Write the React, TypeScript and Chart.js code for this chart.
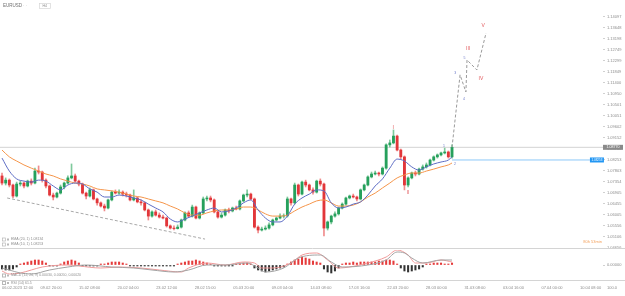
import React, { useEffect, useRef } from 'react';
import { Chart, registerables } from 'chart.js';

Chart.register(...registerables);

const FONT = '"Liberation Sans", "DejaVu Sans", sans-serif';
const AXIS_TEXT = '#8c8c8c';

// ---- price data (4h candles, EURUSD) ----
const OPEN_FIRST = 1.076;
const CLOSES = [
  1.0731, 1.0743, 1.0723, 1.0678, 1.0727, 1.0731, 1.0719, 1.0739, 1.0731, 1.078,
  1.0776, 1.0743, 1.0719, 1.0682, 1.0674, 1.069, 1.0715, 1.0731, 1.0752, 1.076,
  1.0739, 1.0727, 1.069, 1.0678, 1.0703, 1.0666, 1.065, 1.0637, 1.0629, 1.0662,
  1.0694, 1.069, 1.0694, 1.0686, 1.0682, 1.0662, 1.067, 1.0654, 1.065, 1.0621,
  1.0596, 1.0613, 1.06, 1.0592, 1.0588, 1.0556, 1.0547, 1.0545, 1.0551, 1.058,
  1.0609, 1.0596, 1.0633, 1.0588, 1.0609, 1.0666, 1.067, 1.0662, 1.0613, 1.0592,
  1.06, 1.0621, 1.0617, 1.0629, 1.0625, 1.0658, 1.0682, 1.0686, 1.0666, 1.0551,
  1.0539, 1.0543, 1.0547, 1.056, 1.058, 1.0588, 1.0596, 1.0597, 1.0666, 1.065,
  1.0723, 1.0686, 1.0735, 1.0723, 1.0703, 1.0694, 1.0739, 1.0727, 1.0547, 1.0572,
  1.0596, 1.0605, 1.0629, 1.0645, 1.067, 1.0678, 1.0674, 1.0666, 1.0703, 1.0723,
  1.0756, 1.0768, 1.0772, 1.0768, 1.0792, 1.0887, 1.0895, 1.0923, 1.0866, 1.0838,
  1.0723, 1.0752, 1.0772, 1.0768, 1.0788, 1.0797, 1.0805, 1.0825, 1.0838, 1.0846,
  1.0854, 1.0858, 1.0838, 1.0877,
];
const HIGHS = [
  1.0772, 1.0752, 1.0748, 1.0727, 1.0735, 1.0739, 1.0735, 1.0743, 1.0748, 1.0792,
  1.0801, 1.078, 1.0748, 1.0723, 1.069, 1.0694, 1.0723, 1.0735, 1.076, 1.0809,
  1.0768, 1.0743, 1.0731, 1.0694, 1.0711, 1.0707, 1.067, 1.0654, 1.0645, 1.0666,
  1.0699, 1.0703, 1.0703, 1.0699, 1.0694, 1.0686, 1.0703, 1.0674, 1.0662, 1.0654,
  1.0625, 1.0617, 1.0621, 1.0609, 1.06, 1.0592, 1.056, 1.0556, 1.056, 1.0584,
  1.0613, 1.0617, 1.0641, 1.0637, 1.0613, 1.0674, 1.0678, 1.0678, 1.0666, 1.0617,
  1.0609, 1.0625, 1.0629, 1.0633, 1.0637, 1.0662, 1.0686, 1.0703, 1.069, 1.067,
  1.0556, 1.0551, 1.0556, 1.0568, 1.0584, 1.0592, 1.0605, 1.0605, 1.0674, 1.067,
  1.0731, 1.0727, 1.0739, 1.0743, 1.0727, 1.0711, 1.0743, 1.0748, 1.0731, 1.0576,
  1.06, 1.0613, 1.0633, 1.065, 1.0674, 1.0682, 1.0686, 1.0678, 1.0707, 1.0727,
  1.076, 1.0776, 1.078, 1.0776, 1.0797, 1.0891, 1.0907, 1.0948, 1.0927, 1.087,
  1.0842, 1.0756, 1.0776, 1.078, 1.0792, 1.0805, 1.0813, 1.0829, 1.0842, 1.085,
  1.0858, 1.0874, 1.0862, 1.0887,
];
const LOWS = [
  1.0723, 1.0723, 1.0715, 1.067, 1.0674, 1.0719, 1.0711, 1.0715, 1.0723, 1.0727,
  1.0768, 1.0735, 1.0711, 1.0678, 1.0662, 1.067, 1.0686, 1.0707, 1.0727, 1.0748,
  1.0735, 1.0719, 1.0686, 1.0666, 1.0674, 1.0662, 1.0641, 1.0633, 1.0617, 1.0625,
  1.0658, 1.0686, 1.0686, 1.0678, 1.0674, 1.0658, 1.0658, 1.065, 1.0641, 1.0617,
  1.058, 1.0592, 1.0596, 1.0588, 1.0584, 1.0551, 1.0543, 1.0539, 1.0543, 1.0547,
  1.0576, 1.0592, 1.0592, 1.0584, 1.0584, 1.0605, 1.0658, 1.0654, 1.0609, 1.0588,
  1.0588, 1.0596, 1.0609, 1.0613, 1.0621, 1.0621, 1.0654, 1.0674, 1.0662, 1.0547,
  1.0527, 1.0535, 1.0539, 1.0543, 1.0556, 1.0576, 1.0584, 1.0588, 1.0592, 1.0641,
  1.0645, 1.0678, 1.0682, 1.0715, 1.0699, 1.0686, 1.069, 1.0719, 1.0515, 1.0539,
  1.0564, 1.0592, 1.06, 1.0625, 1.0641, 1.0666, 1.067, 1.0658, 1.0662, 1.0699,
  1.0719, 1.0752, 1.0764, 1.076, 1.0764, 1.0788, 1.0878, 1.0891, 1.0862, 1.0829,
  1.0703, 1.0715, 1.0748, 1.076, 1.0764, 1.0784, 1.0792, 1.0801, 1.0821, 1.0833,
  1.0842, 1.085, 1.0833, 1.0833,
];

// EMA values sampled every second candle (plus the last one)
const EMA_FAST = [
  1.0833, 1.078, 1.0748, 1.0739, 1.0735, 1.0743, 1.0739, 1.0719, 1.0703, 1.0723,
  1.0731, 1.0727, 1.0707, 1.0694, 1.0674, 1.0674, 1.0682, 1.0678, 1.067, 1.0662,
  1.0645, 1.0629, 1.0613, 1.0584, 1.0572, 1.0584, 1.0596, 1.0609, 1.0621, 1.0629,
  1.0613, 1.0617, 1.0629, 1.065, 1.0662, 1.0621, 1.0588, 1.0572, 1.0572, 1.0596,
  1.0645, 1.067, 1.0686, 1.0703, 1.0699, 1.065, 1.0629, 1.0633, 1.0645, 1.0654,
  1.0682, 1.0719, 1.0748, 1.0792, 1.0829, 1.0821, 1.0797, 1.0784, 1.0797, 1.0809,
  1.0817, 1.0825, 1.0838,
];
const EMA_SLOW = [
  1.0866, 1.0838, 1.0821, 1.0805, 1.0792, 1.078, 1.0768, 1.076, 1.0748, 1.0739,
  1.0731, 1.0727, 1.0719, 1.0707, 1.0703, 1.0699, 1.0694, 1.0686, 1.0678, 1.0674,
  1.0666, 1.0658, 1.065, 1.0637, 1.0625, 1.0609, 1.06, 1.06, 1.0609, 1.0617,
  1.0621, 1.0621, 1.0625, 1.0633, 1.0633, 1.0621, 1.0605, 1.0596, 1.0596, 1.06,
  1.0617, 1.0633, 1.0645, 1.0658, 1.0662, 1.065, 1.0637, 1.0637, 1.0641, 1.0654,
  1.0674, 1.069, 1.0711, 1.0731, 1.0752, 1.0764, 1.0772, 1.0772, 1.078, 1.0788,
  1.0797, 1.0805, 1.0813,
];

const PRICE_TICKS = [
  '1.14097', '1.13648', '1.13198', '1.12749', '1.12299', '1.11849', '1.11400',
  '1.10950', '1.10501', '1.10051', '1.09602', '1.09152', '1.08703', '1.08253',
  '1.07803', '1.07354', '1.06905', '1.06455', '1.06005', '1.05556', '1.05106', '1.04656',
];
const LAST_PRICE = 1.0877;
const LAST_PRICE_LABEL = '1.08770';
const EMA_FAST_LAST = 1.08253;
const EMA_FAST_LAST_LABEL = '1.08253';

const X_LABELS = [
  '06.02.2023 12:00', '09.02 20:00', '15.02 08:00', '20.02 04:00', '23.02 12:00',
  '28.02 15:00', '05.03 20:00', '09.03 04:00', '14.03 08:00', '17.03 16:00',
  '22.03 20:00', '28.03 00:00', '31.03 08:00', '03.04 16:00', '07.04 00:00', '10.04 08:00',
];

// Elliott wave projection & trend line
const WAVE_X = [123, 125.2, 126.8, 127.1, 129.8, 132.3];
const WAVE_Y = [1.0877, 1.1173, 1.1103, 1.1234, 1.1193, 1.1344];
const TREND_X = [1.4, 55.5];
const TREND_Y = [1.067, 1.0502];
const WAVE_NAMES = ['I', 'II', 'III', 'IV', 'V'];
const WAVE_NAME_X = [106.9, 111, 127.4, 130.9, 131.5];
const WAVE_NAME_Y = [1.0956, 1.069, 1.1279, 1.1156, 1.1373];
const SUB_NAMES = ['1', '2', '3', '4', '5'];
const SUB_NAME_X = [120.8, 123.8, 123.9, 126.3, 126.4];
const SUB_NAME_Y = [1.0882, 1.0809, 1.1181, 1.1074, 1.1242];

// MACD pane
const MACD_HIST = [
  -0.0004, -0.0005, -0.0005, -0.0004, -0.0002, 0.0001, 0.0002, 0.0003, 0.0004, 0.0005,
  0.0005, 0.0004, 0.0002, -0.0001, -0.0001, -0.0001, 0.0001, 0.0003, 0.0004, 0.0005,
  0.0004, 0.0002, -0.0001, -0.0001, -0.0001, -0.0001, -0.0001, 0.0001, 0.0001, 0.0002,
  0.0003, 0.0003, 0.0003, 0.0002, 0.0001, -0.0001, -0.0001, -0.0001, -0.0001, -0.0001,
  -0.0001, -0.0001, -0.0001, -0.0001, -0.0001, -0.0001, -0.0001, -0.0001, 0.0001, 0.0002,
  0.0003, 0.0004, 0.0004, 0.0005, 0.0004, 0.0003, 0.0002, 0.0001, -0.0001, -0.0001,
  -0.0001, -0.0001, -0.0001, -0.0001, 0.0001, 0.0001, 0.0002, 0.0002, 0.0001, -0.0003,
  -0.0005, -0.0006, -0.0007, -0.0006, -0.0005, -0.0004, -0.0003, -0.0002, 0.0001, 0.0003,
  0.0005, 0.0006, 0.0008, 0.0007, 0.0006, 0.0004, 0.0003, 0.0002, -0.0004, -0.0007,
  -0.0008, -0.0006, -0.0003, 0.0001, 0.0002, 0.0002, 0.0003, 0.0002, 0.0003, 0.0003,
  0.0003, 0.0003, 0.0003, 0.0004, 0.0004, 0.0005, 0.0005, 0.0004, 0.0001, -0.0003,
  -0.0006, -0.0007, -0.0006, -0.0005, -0.0004, -0.0002, 0.0001, 0.0001, 0.0002, 0.0002,
  0.0002, 0.0001, 0.0001, 0.0002,
];
const MACD_X = [0, 2, 5, 8, 11, 18, 21, 27, 32, 38, 43, 49, 51, 56, 61, 66, 69, 71, 74, 79, 82, 86, 89, 92, 95, 100, 105, 108, 111, 113, 116, 120, 123];
const MACD_V = [
  -0.0006, -0.0009, -0.0008, -0.0005, -0.0002, 0, -0.0001, -0.0003, -0.0002, -0.0003,
  -0.0005, -0.0007, -0.0003, 0.0002, 0, 0.0003, 0.0002, -0.0003, -0.0003, 0.0002,
  0.001, 0.0012, 0.0005, -0.0003, -0.0002, 0.0002, 0.0008, 0.0015, 0.001, 0.0002,
  0.0002, 0.0005, 0.0003,
];
const SIGNAL_X = [0, 2, 5, 8, 13, 18, 23, 30, 36, 41, 47, 51, 56, 61, 67, 70, 72, 77, 81, 87, 90, 93, 100, 105, 108, 110, 112, 115, 120, 123];
const SIGNAL_V = [
  -0.0003, -0.0005, -0.0008, -0.0009, -0.0005, -0.0002, 0, -0.0002, -0.0003, -0.0005,
  -0.0007, -0.0005, 0, 0, 0.0002, -0.0003, -0.0007, -0.0003, 0.0007, 0.001,
  0.0003, -0.0002, 0, 0.0005, 0.0013, 0.0012, 0.0007, 0.0002, 0.0005, 0.0005,
];

const X_MIN = -0.55;
const X_MAX = 164.27;
const X_LABEL_STEP = 10.532;
const BLUE_END = 160.7;
const MAIN_SHIFT = 5;
const SUB_TOP = 245;

const UP = '#26a05c';
const DOWN = '#e2363a';
const UP_WICK = '#7fc99c';
const DOWN_WICK = '#f08c8c';

export default function App() {
  const mainRef = useRef<HTMLCanvasElement>(null);
  const subRef = useRef<HTMLCanvasElement>(null);

  useEffect(() => {
    document.body.style.margin = '0';
    const n = CLOSES.length;
    const opens = CLOSES.map((c, i) => (i === 0 ? OPEN_FIRST : CLOSES[i - 1]));
    const isUp = CLOSES.map((c, i) => c >= opens[i]);
    const bodies = CLOSES.map((c, i) => {
      const lo = Math.min(opens[i], c);
      const hi = Math.max(opens[i], c);
      return { x: i, y: hi - lo < 0.00004 ? [lo - 0.00002, hi + 0.00002] : [lo, hi] };
    });
    const wicks = CLOSES.map((_, i) => ({ x: i, y: [LOWS[i], HIGHS[i]] }));
    const emaX = EMA_FAST.map((_, k) => Math.min(2 * k, n - 1));

    const lineBase = { type: 'line', pointRadius: 0, borderWidth: 1, fill: false };

    const mainText = {
      id: 'mainText',
      afterDraw(chart: any) {
        const { ctx, chartArea } = chart;
        const xs = chart.scales.x;
        const ys = chart.scales.y;
        const py = (v: number) => v + MAIN_SHIFT;
        ctx.save();
        ctx.textBaseline = 'middle';
        ctx.textAlign = 'left';
        // header
        ctx.font = `4.5px ${FONT}`;
        ctx.fillStyle = '#6e6e6e';
        ctx.fillText('EURUSD', 3, py(6));
        ctx.fillStyle = '#b5b5b5';
        ctx.fillText('· ·', 23, py(6));
        ctx.strokeStyle = '#d6d6d6';
        ctx.lineWidth = 0.7;
        ctx.strokeRect(39.5, py(3.5), 11, 5);
        ctx.font = `3.5px ${FONT}`;
        ctx.fillStyle = '#8a8a8a';
        ctx.fillText('H4', 42.5, py(6));
        // indicator legend
        const legend = (yy: number, txt: string) => {
          ctx.strokeStyle = '#b8b8b8';
          ctx.strokeRect(2.5, py(yy) - 1.5, 3, 3);
          ctx.fillStyle = '#b8b8b8';
          ctx.fillRect(7, py(yy) - 1, 2, 2);
          ctx.fillStyle = '#8f8f8f';
          ctx.font = `3.5px ${FONT}`;
          ctx.fillText(txt, 11, py(yy));
        };
        legend(239.5, 'EMA (20, 1) 1.08134');
        legend(244.5, 'EMA (10, 1) 1.08253');
        // wave labels
        ctx.textAlign = 'center';
        ctx.font = `5px ${FONT}`;
        ctx.fillStyle = '#e25a5e';
        WAVE_NAMES.forEach((t, k) => {
          ctx.fillText(t, xs.getPixelForValue(WAVE_NAME_X[k]), ys.getPixelForValue(WAVE_NAME_Y[k]));
        });
        ctx.font = `3.5px ${FONT}`;
        ctx.fillStyle = '#6b79c9';
        SUB_NAMES.forEach((t, k) => {
          ctx.fillText(t, xs.getPixelForValue(SUB_NAME_X[k]), ys.getPixelForValue(SUB_NAME_Y[k]));
        });
        // current price box
        const yl = ys.getPixelForValue(LAST_PRICE);
        ctx.fillStyle = '#8a8a8a';
        ctx.fillRect(chartArea.right, yl - 2.5, 20, 5);
        ctx.fillStyle = '#ffffff';
        ctx.font = `3.6px ${FONT}`;
        ctx.fillText(LAST_PRICE_LABEL, chartArea.right + 10, yl);
        // EMA value box
        const yb = ys.getPixelForValue(EMA_FAST_LAST);
        const xb = xs.getPixelForValue(BLUE_END);
        ctx.fillStyle = '#2196f3';
        ctx.fillRect(xb, yb - 2.5, 14, 5);
        ctx.fillStyle = '#ffffff';
        ctx.font = `3px ${FONT}`;
        ctx.fillText(EMA_FAST_LAST_LABEL, xb + 7, yb);
        // candle countdown
        ctx.textAlign = 'right';
        ctx.fillStyle = '#f3a15c';
        ctx.font = `4px ${FONT}`;
        ctx.fillText('80h 53min', chartArea.right - 1, py(241.5));
        ctx.restore();
      },
    };

    const mainChart = new Chart(mainRef.current as HTMLCanvasElement, {
      type: 'bar',
      data: {
        datasets: [
          { ...lineBase, data: emaX.map((x, k) => ({ x, y: EMA_FAST[k] })), borderColor: '#5d6cc4', cubicInterpolationMode: 'monotone', order: 1 },
          { ...lineBase, data: emaX.map((x, k) => ({ x, y: EMA_SLOW[k] })), borderColor: '#f5954a', cubicInterpolationMode: 'monotone', order: 1 },
          { ...lineBase, data: WAVE_X.map((x, k) => ({ x, y: WAVE_Y[k] })), borderColor: '#9a9a9a', borderDash: [3, 2], order: 0 },
          { ...lineBase, data: TREND_X.map((x, k) => ({ x, y: TREND_Y[k] })), borderColor: '#a8a8a8', borderDash: [3, 2], order: 0 },
          { ...lineBase, data: [{ x: X_MIN, y: LAST_PRICE }, { x: X_MAX, y: LAST_PRICE }], borderColor: '#d3d3d3', order: 6 },
          { ...lineBase, data: [{ x: n - 1, y: EMA_FAST_LAST }, { x: BLUE_END, y: EMA_FAST_LAST }], borderColor: '#8cc8f8', order: 6 },
          { type: 'bar', data: wicks, backgroundColor: isUp.map((u) => (u ? UP_WICK : DOWN_WICK)), barThickness: 1, grouped: false, order: 4 },
          { type: 'bar', data: bodies, backgroundColor: isUp.map((u) => (u ? UP : DOWN)), barThickness: 2.2, grouped: false, order: 3 },
        ] as any,
      },
      options: {
        responsive: false,
        animation: false,
        devicePixelRatio: 1,
        events: [],
        layout: { padding: { top: MAIN_SHIFT, bottom: 8, left: 0, right: 0 } },
        plugins: { legend: { display: false }, tooltip: { enabled: false } },
        scales: {
          x: { type: 'linear', min: X_MIN, max: X_MAX, offset: false, display: false },
          y: {
            position: 'right',
            min: 1.04656,
            max: 1.1479,
            beginAtZero: false,
            afterFit: (s: any) => { s.width = 22; },
            afterBuildTicks: (s: any) => { s.ticks = PRICE_TICKS.map((t) => ({ value: parseFloat(t) })); },
            ticks: {
              padding: 2,
              color: AXIS_TEXT,
              font: { size: 4, family: FONT },
              callback: (v: any) => Number(v).toFixed(5),
            },
            grid: { display: true, drawOnChartArea: false, drawTicks: true, tickLength: 2, color: '#d0d0d0' },
            border: { display: false },
          },
        },
      } as any,
      plugins: [mainText],
    });

    const subText = {
      id: 'subText',
      afterDraw(chart: any) {
        const { ctx } = chart;
        const py = (v: number) => v - SUB_TOP;
        ctx.save();
        ctx.strokeStyle = '#d4d4d4';
        ctx.lineWidth = 1;
        ctx.beginPath();
        ctx.moveTo(0, py(248) + 0.5);
        ctx.lineTo(625, py(248) + 0.5);
        ctx.moveTo(0, py(280) + 0.5);
        ctx.lineTo(625, py(280) + 0.5);
        ctx.stroke();
        ctx.textBaseline = 'middle';
        ctx.textAlign = 'left';
        ctx.font = `3.5px ${FONT}`;
        const legend = (yy: number, txt: string) => {
          ctx.strokeStyle = '#b8b8b8';
          ctx.strokeRect(2.5, py(yy) - 1.5, 3, 3);
          ctx.fillStyle = '#b8b8b8';
          ctx.fillRect(7, py(yy) - 1, 2, 2);
          ctx.fillStyle = '#8f8f8f';
          ctx.fillText(txt, 11, py(yy));
        };
        legend(275.5, 'MACD (12, 26, 9) 0.00030, 0.00050, 0.00020');
        legend(283, 'RSI (14) 61.5');
        ctx.fillStyle = AXIS_TEXT;
        ctx.font = `4px ${FONT}`;
        ctx.fillText('100.0', 607, py(287.5));
        ctx.restore();
      },
    };

    const subChart = new Chart(subRef.current as HTMLCanvasElement, {
      type: 'bar',
      data: {
        datasets: [
          { type: 'bar', data: MACD_HIST.map((v, i) => ({ x: i, y: v })), backgroundColor: MACD_HIST.map((v) => (v >= 0 ? '#e53b3b' : '#333333')), barThickness: 1.4, grouped: false, order: 3 },
          { ...lineBase, data: SIGNAL_X.map((x, k) => ({ x, y: SIGNAL_V[k] })), borderColor: '#a3a3a3', cubicInterpolationMode: 'monotone', order: 1 },
          { ...lineBase, data: MACD_X.map((x, k) => ({ x, y: MACD_V[k] })), borderColor: '#f09a9a', cubicInterpolationMode: 'monotone', order: 1 },
        ] as any,
      },
      options: {
        responsive: false,
        animation: false,
        devicePixelRatio: 1,
        events: [],
        layout: { padding: { top: 5, bottom: 0, left: 0, right: 0 } },
        plugins: { legend: { display: false }, tooltip: { enabled: false } },
        scales: {
          x: {
            type: 'linear',
            min: X_MIN,
            max: X_MAX,
            offset: false,
            afterFit: (s: any) => { s.height = 16; },
            afterBuildTicks: (s: any) => { s.ticks = X_LABELS.map((_, k) => ({ value: k * X_LABEL_STEP })); },
            ticks: {
              autoSkip: false,
              maxRotation: 0,
              minRotation: 0,
              align: 'start',
              padding: 0,
              color: AXIS_TEXT,
              font: { size: 4, family: FONT },
              callback: (_v: any, i: number) => X_LABELS[i],
            },
            grid: { display: true, drawOnChartArea: false, drawTicks: true, tickLength: 5.5, color: 'rgba(0,0,0,0)' },
            border: { display: false },
          },
          y: {
            position: 'right',
            min: -0.0015,
            max: 0.0015,
            beginAtZero: false,
            afterFit: (s: any) => { s.width = 22; },
            afterBuildTicks: (s: any) => { s.ticks = [{ value: 0 }]; },
            ticks: {
              padding: 2,
              color: AXIS_TEXT,
              font: { size: 4, family: FONT },
              callback: () => '0.00000',
            },
            grid: { display: true, drawOnChartArea: false, drawTicks: true, tickLength: 2, color: '#d0d0d0' },
            border: { display: false },
          },
        },
      } as any,
      plugins: [subText],
    });

    return () => {
      mainChart.destroy();
      subChart.destroy();
    };
  }, []);

  return (
    <div style={{ position: 'relative', width: 625, height: 296, overflow: 'hidden', background: '#ffffff' }}>
      <canvas ref={mainRef} width={625} height={261} style={{ position: 'absolute', left: 0, top: -MAIN_SHIFT }} />
      <canvas ref={subRef} width={625} height={51} style={{ position: 'absolute', left: 0, top: SUB_TOP }} />
    </div>
  );
}
